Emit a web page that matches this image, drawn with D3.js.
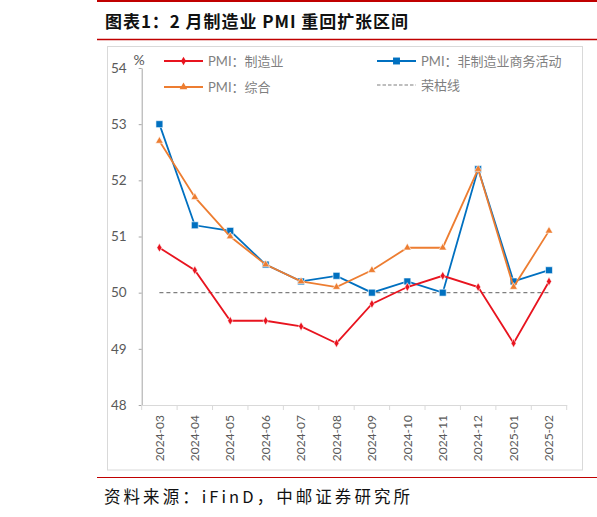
<!DOCTYPE html>
<html>
<head>
<meta charset="utf-8">
<script src="https://cdn.jsdelivr.net/npm/d3@7"></script>
<style>
  body { margin: 0; background: #fff; }
  svg { display: block; }
  .tick text { fill: #595959; }
</style>
</head>
<body>
<svg width="597" height="517" id="chart"></svg>
<script>
// months on the x axis
var months = ["2024-03","2024-04","2024-05","2024-06","2024-07","2024-08",
              "2024-09","2024-10","2024-11","2024-12","2025-01","2025-02"];
// PMI series
var pmiMfg    = [50.8, 50.4, 49.5, 49.5, 49.4, 49.1, 49.8, 50.1, 50.3, 50.1, 49.1, 50.2];
var pmiNonMfg = [53.0, 51.2, 51.1, 50.5, 50.2, 50.3, 50.0, 50.2, 50.0, 52.2, 50.2, 50.4];
var pmiComp   = [52.7, 51.7, 51.0, 50.5, 50.2, 50.1, 50.4, 50.8, 50.8, 52.2, 50.1, 51.1];
var boomLine  = 50;
var yTicks    = [48, 49, 50, 51, 52, 53, 54];

var svg = d3.select("#chart");
var latin = "Lato, 'Noto Sans', 'Noto Sans CJK SC', sans-serif";
var cjk = "'Noto Sans CJK SC', sans-serif";

// red rules and title
svg.append("line").attr("x1", 97).attr("x2", 597).attr("y1", 1).attr("y2", 1)
  .attr("stroke", "#c00000").attr("stroke-width", 2);
svg.append("line").attr("x1", 97).attr("x2", 597).attr("y1", 39.5).attr("y2", 39.5)
  .attr("stroke", "#c00000").attr("stroke-width", 1.5);
svg.append("line").attr("x1", 97).attr("x2", 597).attr("y1", 477.5).attr("y2", 477.5)
  .attr("stroke", "#c00000").attr("stroke-width", 1.2);

svg.append("text").attr("x", 105).attr("y", 27.5)
  .attr("font-family", cjk).attr("font-weight", 700).attr("font-size", 17)
  .attr("fill", "#111").attr("textLength", 303).attr("lengthAdjust", "spacing")
  .text("图表1：2 月制造业 PMI 重回扩张区间");

svg.append("text").attr("x", 104).attr("y", 503)
  .attr("font-family", cjk).attr("font-weight", 400).attr("font-size", 16.5)
  .attr("fill", "#111").attr("textLength", 306).attr("lengthAdjust", "spacing")
  .text("资料来源：iFinD，中邮证券研究所");

// chart frame
svg.append("rect").attr("x", 107.5).attr("y", 46.5).attr("width", 475).attr("height", 423.5)
  .attr("fill", "none").attr("stroke", "#d9d9d9").attr("stroke-width", 1);

var x = d3.scaleBand().domain(months).range([141.7, 566.7]);
var y = d3.scaleLinear().domain([48, 54]).range([405, 68]);
var cx = function(d) { return x(d) + x.bandwidth() / 2; };

// y axis
var yAxis = svg.append("g").attr("transform", "translate(141.7,0)")
  .call(d3.axisLeft(y).tickValues(yTicks).tickFormat(d3.format("d"))
    .tickSizeInner(3).tickSizeOuter(0).tickPadding(12));
yAxis.select(".domain").attr("stroke", "#a6a6a6");
yAxis.selectAll(".tick line").attr("stroke", "#a6a6a6");
yAxis.selectAll(".tick text").attr("font-family", latin).attr("font-size", 13.5);

svg.append("text").attr("x", 139).attr("y", 65).attr("text-anchor", "middle")
  .attr("font-family", latin).attr("font-size", 14).attr("fill", "#595959").text("%");

// x axis
var xAxis = svg.append("g").attr("transform", "translate(0,405)")
  .call(d3.axisBottom(x).tickSize(0).tickPadding(8));
xAxis.select(".domain").attr("stroke", "#d9d9d9");
xAxis.selectAll(".tick text")
  .attr("font-family", latin).attr("font-size", 12)
  .attr("transform", "rotate(-90)")
  .attr("text-anchor", "end").attr("dy", "0.35em")
  .attr("x", -10).attr("y", 0);
// boundary ticks
svg.append("g").selectAll("line")
  .data(months.concat(["end"]))
  .enter().append("line")
  .attr("x1", function(d, i) { return x.range()[0] + i * x.step(); })
  .attr("x2", function(d, i) { return x.range()[0] + i * x.step(); })
  .attr("y1", 405).attr("y2", 410)
  .attr("stroke", "#d9d9d9");

// boom/bust line
svg.append("line")
  .attr("x1", cx(months[0])).attr("x2", cx(months[months.length - 1]))
  .attr("y1", y(boomLine)).attr("y2", y(boomLine))
  .attr("stroke", "#7f7f7f").attr("stroke-width", 1.3).attr("stroke-dasharray", "4,3");

var series = [
  { name: "PMI：制造业", values: pmiMfg, color: "#e8141f", marker: "diamond" },
  { name: "PMI：非制造业商务活动", values: pmiNonMfg, color: "#0070c0", marker: "square" },
  { name: "PMI：综合", values: pmiComp, color: "#ed7d31", marker: "triangle" }
];

var line = d3.line()
  .x(function(d, i) { return cx(months[i]); })
  .y(function(d) { return y(d); });

function symbolFor(m) {
  if (m === "square") return d3.symbol().type(d3.symbolSquare).size(48)();
  if (m === "triangle") return d3.symbol().type(d3.symbolTriangle).size(26)();
  return d3.symbol().type(d3.symbolDiamond).size(22)();
}

// draw blue first, then orange, then red on top
[1, 2, 0].forEach(function(k) {
  var s = series[k];
  svg.append("path").datum(s.values)
    .attr("d", line).attr("fill", "none")
    .attr("stroke", s.color).attr("stroke-width", 1.8);
  svg.append("g").selectAll("path")
    .data(s.values).enter().append("path")
    .attr("d", symbolFor(s.marker))
    .attr("transform", function(d, i) { return "translate(" + cx(months[i]) + "," + y(d) + ")"; })
    .attr("fill", s.color)
    .attr("stroke", "#fff").attr("stroke-width", 0.6);
});

// legend
var legend = [
  { s: series[0], x: 164, y: 61 },
  { s: series[1], x: 377, y: 61 },
  { s: series[2], x: 164, y: 87 },
  { s: { name: "荣枯线", color: "#7f7f7f", marker: null }, x: 377, y: 85 }
];
legend.forEach(function(l) {
  var g = svg.append("g").attr("transform", "translate(" + l.x + "," + l.y + ")");
  var ln = g.append("line").attr("x1", 0).attr("x2", 39).attr("y1", 0).attr("y2", 0)
    .attr("stroke", l.s.color).attr("stroke-width", l.s.marker ? 1.8 : 1.2);
  if (l.s.marker) {
    g.append("path").attr("d", symbolFor(l.s.marker))
      .attr("transform", "translate(19.5,0)").attr("fill", l.s.color);
  } else {
    ln.attr("stroke-dasharray", "3.5,2");
  }
  g.append("text").attr("x", 44).attr("y", 0).attr("dy", "0.35em")
    .attr("font-family", latin).attr("font-size", 13).attr("fill", "#7f7f7f")
    .text(l.s.name);
});
</script>
</body>
</html>
